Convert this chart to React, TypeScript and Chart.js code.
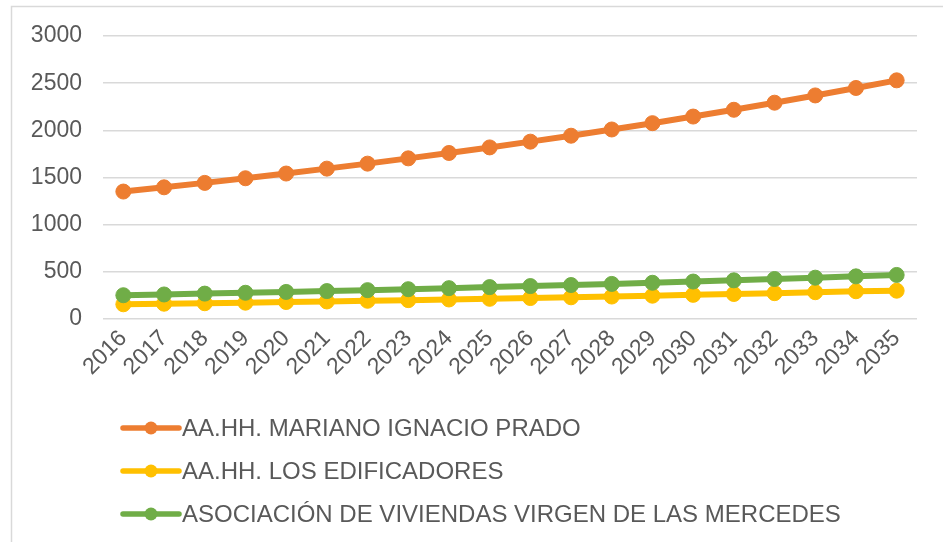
import React, { useEffect, useRef } from "react";
import { Chart, registerables } from "chart.js";

Chart.register(...registerables);

const years = ["2016","2017","2018","2019","2020","2021","2022","2023","2024","2025","2026","2027","2028","2029","2030","2031","2032","2033","2034","2035"];
const marianoIgnacioPrado = [1351,1396,1443,1492,1542,1594,1647,1703,1760,1819,1880,1943,2009,2076,2146,2218,2293,2370,2449,2530];
const losEdificadores = [156,162,167,173,180,186,193,200,207,214,222,230,238,247,256,265,274,284,294,300];
const virgenDeLasMercedes = [252,260,269,278,287,296,306,316,327,338,349,360,372,384,397,410,424,438,452,467];
const seriesNames = [
  "AA.HH. MARIANO IGNACIO PRADO",
  "AA.HH. LOS EDIFICADORES",
  "ASOCIACIÓN DE VIVIENDAS VIRGEN DE LAS MERCEDES",
];
const seriesColors = ["#ED7D31", "#FFC000", "#70AD47"];
const yTicks = [0, 500, 1000, 1500, 2000, 2500, 3000];

const TEXT = "#595959";
const GRID = "#d9d9d9";
const FONT = "'Liberation Sans', Arial, sans-serif";

const framePlugin = {
  id: "frame",
  beforeDraw(chart: any) {
    const ctx = chart.ctx;
    ctx.save();
    ctx.fillStyle = "#ffffff";
    ctx.fillRect(0, 0, chart.width, chart.height);
    ctx.strokeStyle = GRID;
    ctx.lineWidth = 1.5;
    ctx.beginPath();
    ctx.moveTo(11.5, chart.height + 2);
    ctx.lineTo(11.5, 6.5);
    ctx.lineTo(chart.width + 2, 6.5);
    ctx.stroke();
    ctx.restore();
  },
};

const legendPlugin = {
  id: "vlegend",
  afterDraw(chart: any) {
    const ctx = chart.ctx;
    const ds = chart.data.datasets;
    const x0 = 123, x1 = 179, textX = 182;
    const rowY = [428, 471, 514];
    ctx.save();
    ds.forEach((d: any, i: number) => {
      const y = rowY[i];
      ctx.strokeStyle = d.borderColor;
      ctx.lineWidth = 5.5;
      ctx.lineCap = "round";
      ctx.beginPath();
      ctx.moveTo(x0, y);
      ctx.lineTo(x1, y);
      ctx.stroke();
      ctx.fillStyle = d.borderColor;
      ctx.beginPath();
      ctx.arc((x0 + x1) / 2, y, 6.5, 0, Math.PI * 2);
      ctx.fill();
      ctx.fillStyle = TEXT;
      ctx.font = `24px ${FONT}`;
      ctx.textAlign = "left";
      ctx.textBaseline = "middle";
      ctx.fillText(d.label, textX, y + 1);
    });
    ctx.restore();
  },
};

export default function App() {
  const ref = useRef<HTMLCanvasElement | null>(null);
  useEffect(() => {
    document.body.style.margin = "0";
    const datasets = [marianoIgnacioPrado, losEdificadores, virgenDeLasMercedes].map((data, i) => ({
      label: seriesNames[i],
      data,
      borderColor: seriesColors[i],
      backgroundColor: seriesColors[i],
      pointBackgroundColor: seriesColors[i],
      pointBorderColor: seriesColors[i],
      pointRadius: 7.5,
      pointBorderWidth: 1,
      borderWidth: 6,
      borderCapStyle: "round" as const,
      borderJoinStyle: "round" as const,
      tension: 0,
      order: 3 - i,
    }));
    const chart = new Chart(ref.current as HTMLCanvasElement, {
      type: "line",
      data: { labels: years, datasets },
      options: {
        animation: false,
        responsive: false,
        devicePixelRatio: 1,
        layout: { padding: { top: 36, right: 26, bottom: 140, left: 0 } },
        plugins: { legend: { display: false }, tooltip: { enabled: false } },
        scales: {
          x: {
            offset: true,
            grid: { display: false, drawTicks: false },
            border: { display: false },
            ticks: {
              color: TEXT,
              font: { family: FONT, size: 23 },
              maxRotation: 45,
              minRotation: 45,
              padding: 6,
              autoSkip: false,
            },
            afterFit: (s: any) => { s.height = 542 - 140 - 319; },
          },
          y: {
            min: 0,
            max: 3000,
            afterBuildTicks: (s: any) => { s.ticks = yTicks.map((v) => ({ value: v })); },
            grid: { color: GRID, lineWidth: 1.5, drawTicks: false },
            border: { display: false },
            ticks: {
              color: TEXT,
              font: { family: FONT, size: 23 },
              padding: 21,
              callback: (v: any) => String(v),
            },
            afterFit: (s: any) => { s.width = 103; },
          },
        },
      },
      plugins: [framePlugin, legendPlugin],
    });
    return () => chart.destroy();
  }, []);
  return (
    <div style={{ position: "absolute", left: 0, top: 0, width: 943, height: 542 }}>
      <canvas ref={ref} width={943} height={542} />
    </div>
  );
}
